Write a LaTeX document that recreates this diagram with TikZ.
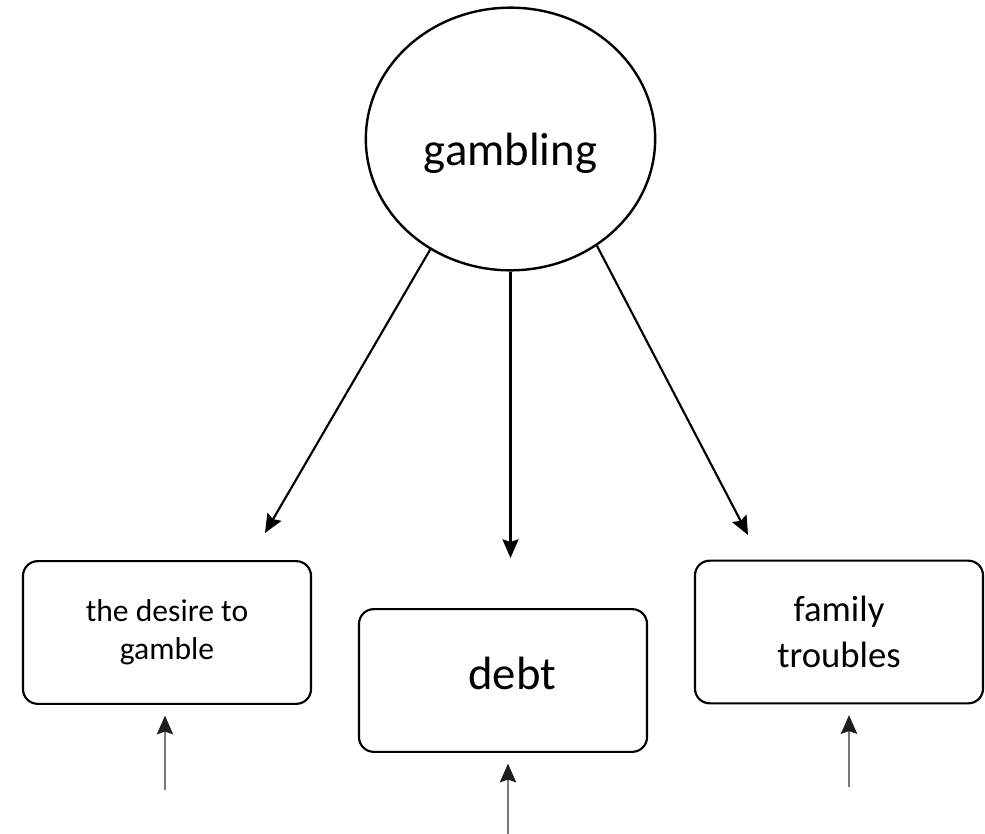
\documentclass[tikz,border=0pt]{standalone}
\usepackage{fontspec}
\setmainfont{Carlito}
\usetikzlibrary{shapes.geometric,arrows.meta}

\tikzset{every picture/.style={line width=0.75pt}}
\tikzset{
  topic/.style={draw, ellipse, line width=1.8pt, minimum width=217pt, minimum height=197pt, inner sep=0pt},
  effect/.style={draw, rounded corners=11pt, line width=1.6pt, minimum width=216pt, minimum height=107pt, align=center, inner sep=0pt},
  arrowdown/.style={line width=1.6pt, -{Stealth[length=14pt,width=12pt,inset=2pt]}},
  arrowup/.style={line width=2.2pt, color={rgb,255:red,120;green,120;blue,120}, -{Stealth[length=14pt,width=12pt,inset=2pt,color={rgb,255:red,30;green,30;blue,30}]}, shorten >=8pt}
}

\begin{document}
\begin{tikzpicture}[x=0.75pt,y=0.75pt,yscale=-1,xscale=1]
	\useasboundingbox (0,0) rectangle (985,834);
	
	%Shape: Ellipse [id:gambling]
	\node[topic, font=\fontsize{35}{42}\selectfont] (gambling) at (510.5,139) {\raisebox{-20pt}[0pt][0pt]{gambling}};
	
	%Shape: Rounded Rect [id:desire]
	\node[effect, font=\fontsize{23.7}{28.5}\selectfont] (desire) at (167,632.5) {the desire to\\gamble};
	%Shape: Rounded Rect [id:debt]
	\node[effect, font=\fontsize{35}{42}\selectfont] (debt) at (503,680.5) {\hspace*{14pt}\raisebox{-7pt}[0pt][0pt]{debt}};
	%Shape: Rounded Rect [id:family]
	\node[effect, font=\fontsize{27.5}{34}\selectfont] (family) at (839,632) {family\\troubles};
	
	%Straight Lines (from gambling)
	\coordinate (tipA) at (265,533);
	\coordinate (tipB) at (510.5,558);
	\coordinate (tipC) at (748,535);
	\draw[arrowdown] (gambling.234) -- (tipA);
	\draw[arrowdown] (gambling.south) -- (tipB);
	\draw[arrowdown] (gambling.309) -- (tipC);
	
	%Straight Lines (from below)
	\coordinate (footA) at (165,790);
	\coordinate (footB) at (508,834);
	\coordinate (footC) at (849,787);
	\draw[arrowup] (footA) -- (footA |- desire.south);
	\draw[arrowup] (footB) -- (footB |- debt.south);
	\draw[arrowup] (footC) -- (footC |- family.south);
	
\end{tikzpicture}
\end{document}
